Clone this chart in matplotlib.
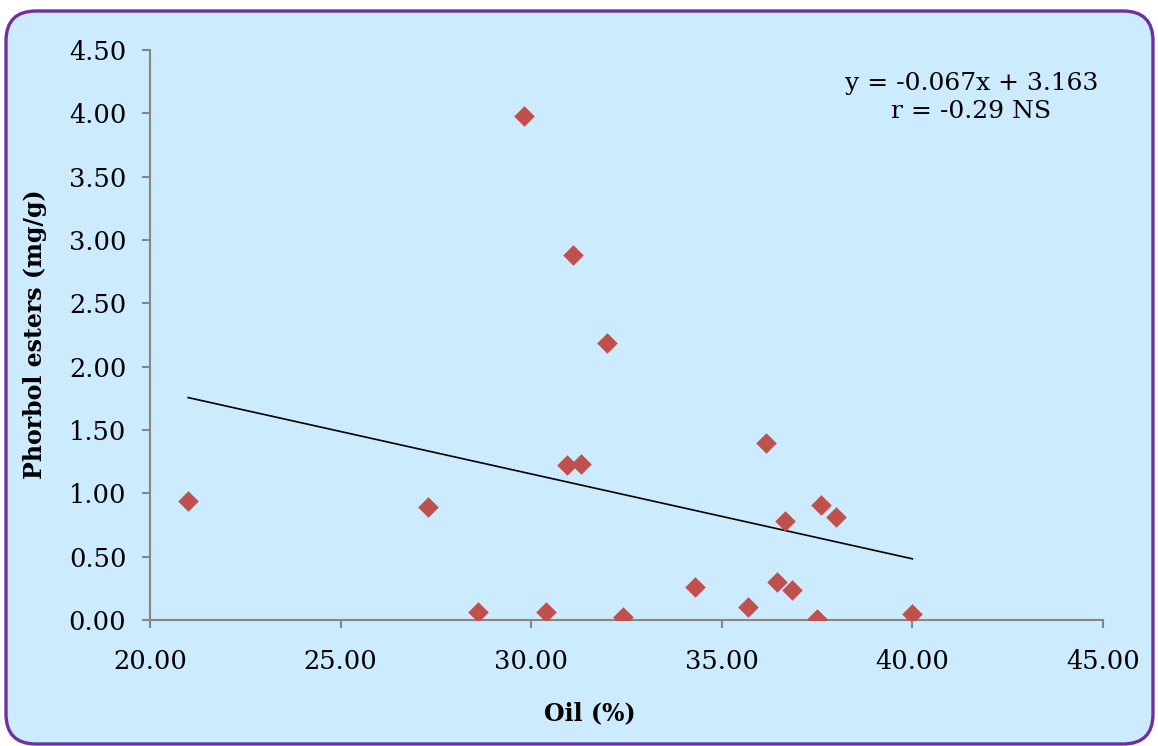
import numpy as np
import matplotlib
matplotlib.use("Agg")
import matplotlib.pyplot as plt
from matplotlib.patches import FancyBboxPatch

# 数据
oil = [21.0, 27.3, 28.6, 29.8, 30.4, 30.95, 31.3, 31.1, 32.0, 32.4,
       34.3, 35.7, 36.15, 36.45, 36.65, 36.85, 37.5, 37.6, 38.0, 40.0]
phorbol = [0.94, 0.89, 0.06, 3.98, 0.06, 1.22, 1.23, 2.88, 2.19, 0.02,
           0.26, 0.10, 1.40, 0.30, 0.78, 0.24, 0.01, 0.91, 0.81, 0.05]
slope, intercept = -0.067, 3.163
eq_text = "y = -0.067x + 3.163\nr = -0.29 NS"

bg = "#CCEBFE"
plt.rcParams['font.family'] = ['DejaVu Serif']

fig = plt.figure(figsize=(11.58, 7.46), dpi=100)
fig.patch.set_facecolor("white")

# 圆角背景框
box = FancyBboxPatch((0.06, 0.02), 11.47, 7.33,
                     boxstyle="round,pad=0,rounding_size=0.3",
                     transform=fig.dpi_scale_trans,
                     facecolor=bg, edgecolor="#7030A0", linewidth=2.4, zorder=-5)
fig.patches.append(box)

ax = fig.add_axes([0.1295, 0.1689, 0.823, 0.7641])
ax.patch.set_alpha(0)

ax.scatter(oil, phorbol, marker="D", s=110, color="#C0504D", linewidths=0, zorder=3)

# 趋势线
xl = np.array([min(oil), max(oil)])
ax.plot(xl, slope * xl + intercept, color="black", lw=1.2, zorder=2)

ax.set_xlim(20, 45)
ax.set_ylim(0, 4.5)
ax.set_xticks(np.arange(20, 45.1, 5))
ax.set_yticks(np.arange(0, 4.51, 0.5))
ax.xaxis.set_major_formatter(matplotlib.ticker.FormatStrFormatter("%.2f"))
ax.yaxis.set_major_formatter(matplotlib.ticker.FormatStrFormatter("%.2f"))

for s in ["top", "right"]:
    ax.spines[s].set_visible(False)
for s in ["left", "bottom"]:
    ax.spines[s].set_color("#868686")
    ax.spines[s].set_linewidth(1.5)
ax.tick_params(axis="both", colors="#868686", labelcolor="black", length=6,
               width=1.5, labelsize=18.5)
ax.tick_params(axis="y", pad=11)
ax.tick_params(axis="x", pad=15)

ax.set_xlabel("Oil (%)", fontsize=17, fontweight="bold")
ax.xaxis.set_label_coords(0.4617, -0.163)
ax.xaxis.label.set_va("center")
ax.set_ylabel("Phorbol esters (mg/g)", fontsize=17, fontweight="bold")
ax.yaxis.set_label_coords(-0.1207, 0.502)
ax.yaxis.label.set_va("center")

ax.text(0.862, 0.962, eq_text, transform=ax.transAxes, ha="center", va="top",
        fontsize=18, linespacing=1.32)

fig.savefig("out.png", dpi=100)
